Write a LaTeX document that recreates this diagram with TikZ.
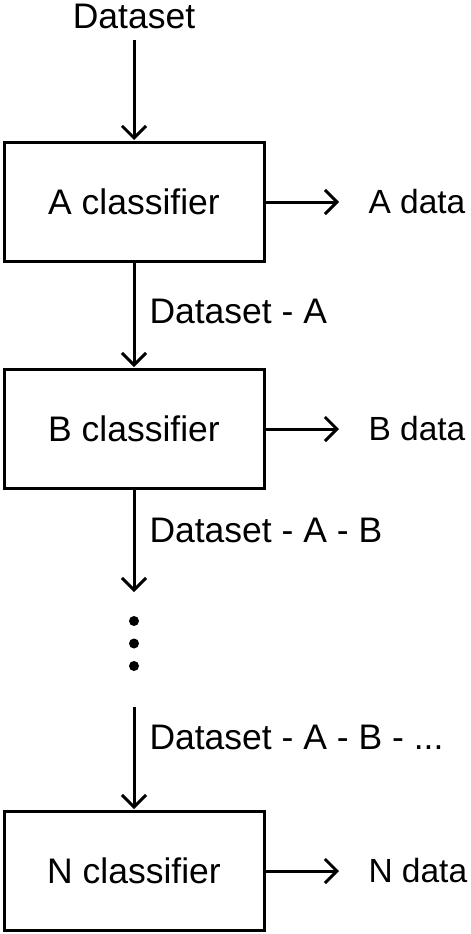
\documentclass[tikz,border=0pt]{standalone}
\usepackage{fontspec}
\setmainfont{Liberation Sans}
\usetikzlibrary{arrows.meta,positioning}

\begin{document}
\begin{tikzpicture}[x=1pt, y=-1pt, line width=3pt, >={Straight Barb[length=12pt,width=24pt]}, shorten >=1pt, auto,
	every node/.style={font=\fontsize{35.5}{40}\selectfont},
	classifier/.style={draw, rectangle, minimum width=260pt, minimum height=119pt},
	result/.style={anchor=west, inner xsep=27pt, inner ysep=0pt, font=\fontsize{33.5}{40}\selectfont},
	step label/.style={inner sep=14pt},
	vdot/.style={circle, fill, inner sep=0pt, minimum size=10pt}]
	\useasboundingbox (0,0) rectangle (471,934);
	\draw (134,16)node[inner sep=10pt](in){Dataset};
	\draw (134,202)node[classifier](A){A classifier};
	\draw (134,429)node[classifier](B){B classifier};
	\draw (134,871)node[classifier](N){N classifier};
	\draw (340,202)node[result](Ad){A data};
	\draw (340,429)node[result](Bd){B data};
	\draw (340,871)node[result](Nd){N data};
	\draw (134,621)node[vdot](d1){};
	\draw (134,643.5)node[vdot](d2){};
	\draw (134,666)node[vdot](d3){};
	\coordinate (gapTop) at (134,593);
	\coordinate (gapBot) at (134,707);
	\path[->] (in) edge (A);
	\path[->] (A) edge node[step label, pos=0.46]{Dataset - A}(B);
	\path[->] (B) edge node[step label, pos=0.39]{Dataset - A - B}(gapTop);
	\path[->] (gapBot) edge node[step label, pos=0.3]{Dataset - A - B - ...}(N);
	\path[->] (A) edge (Ad);
	\path[->] (B) edge (Bd);
	\path[->] (N) edge (Nd);
\end{tikzpicture}
\end{document}
